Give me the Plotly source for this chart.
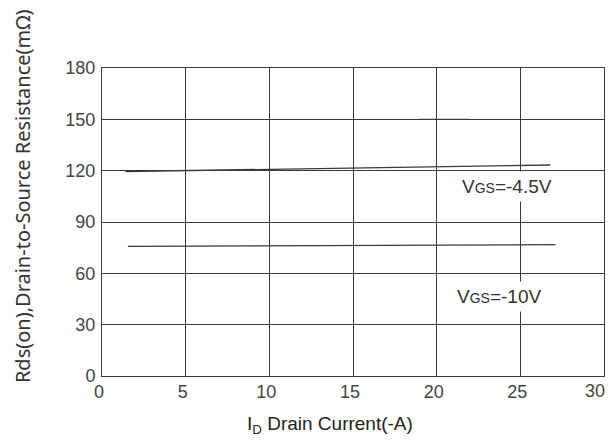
import plotly.graph_objects as go

# Data
vgs45_x = [1.4, 26.8]
vgs45_y = [119.5, 123.3]
vgs10_x = [1.55, 27.1]
vgs10_y = [75.7, 76.8]
seg_x = [18.9, 22.0]
seg_y = [150, 150]

x_ticks = [0, 5, 10, 15, 20, 25, 30]
x_tick_labels = ["0", "5", "10", "15", "20", "25", "30"]
y_ticks = [0, 30, 60, 90, 120, 150, 180]
y_tick_labels = ["0", "30", "60", "90", "120", "150", "180"]

line_col = "#3a3a3a"
tick_font = dict(family="Liberation Sans, Arial", size=18, color="#444444")
fig = go.Figure()
for xs, ys in [(vgs45_x, vgs45_y), (vgs10_x, vgs10_y), (seg_x, seg_y)]:
    fig.add_trace(go.Scatter(x=xs, y=ys, mode="lines",
                             line=dict(color=line_col, width=1.3),
                             showlegend=False, hoverinfo="skip"))

lab_font = dict(family="Liberation Sans, Arial", size=19, color="#333333")
fig.add_annotation(x=24.2, y=110.6, text="V<span style='font-size:14px'>GS</span>=-4.5V",
                   showarrow=False, bgcolor="white", borderpad=4, font=lab_font)
fig.add_annotation(x=23.7, y=46.4, text="V<span style='font-size:14px'>GS</span>=-10V",
                   showarrow=False, bgcolor="white", borderpad=4, font=lab_font)

# Last x tick label sits at the right edge of the picture: right-anchor it so it stays visible
fig.add_annotation(x=x_ticks[-1], y=y_ticks[0], text=x_tick_labels[-1], showarrow=False,
                   xanchor="right", yanchor="top", xshift=3, yshift=-3, font=tick_font)

# Axis titles as annotations (offset from plot centre in the reference)
fig.add_annotation(xref="paper", yref="paper", x=-0.1594, y=0.584,
                   text="Rds(on),Drain-to-Source Resistance(mΩ)", textangle=-90,
                   showarrow=False, xanchor="center", yanchor="middle",
                   font=dict(family="Noto Sans", size=20, color="#333333"))
fig.add_annotation(xref="paper", yref="paper", x=0.455, y=-0.159,
                   text="I<sub>D</sub> Drain Current(-A)",
                   showarrow=False, xanchor="center", yanchor="middle",
                   font=dict(family="Liberation Sans, Arial", size=19, color="#222222"))

fig.update_layout(
    width=608, height=440,
    margin=dict(l=102, r=4, t=68, b=64),
    paper_bgcolor="white", plot_bgcolor="white",
    font=tick_font,
    xaxis=dict(range=[0, 30], tickvals=x_ticks[:-1], ticktext=x_tick_labels[:-1],
               showgrid=True, gridcolor=line_col, gridwidth=1,
               showline=True, linecolor=line_col, linewidth=1, mirror=True,
               zeroline=False, ticks="", automargin=False, ticklabelstandoff=-1,
               ticklabelshift=-3),
    yaxis=dict(range=[0, 180], tickvals=y_ticks, ticktext=y_tick_labels,
               showgrid=True, gridcolor=line_col, gridwidth=1,
               showline=True, linecolor=line_col, linewidth=1, mirror=True,
               zeroline=False, ticks="", ticklabelstandoff=2, automargin=False),
)

fig.write_html("out.html", config={"displayModeBar": False},
               post_script="document.body.style.margin='0';document.body.style.overflow='hidden';")
